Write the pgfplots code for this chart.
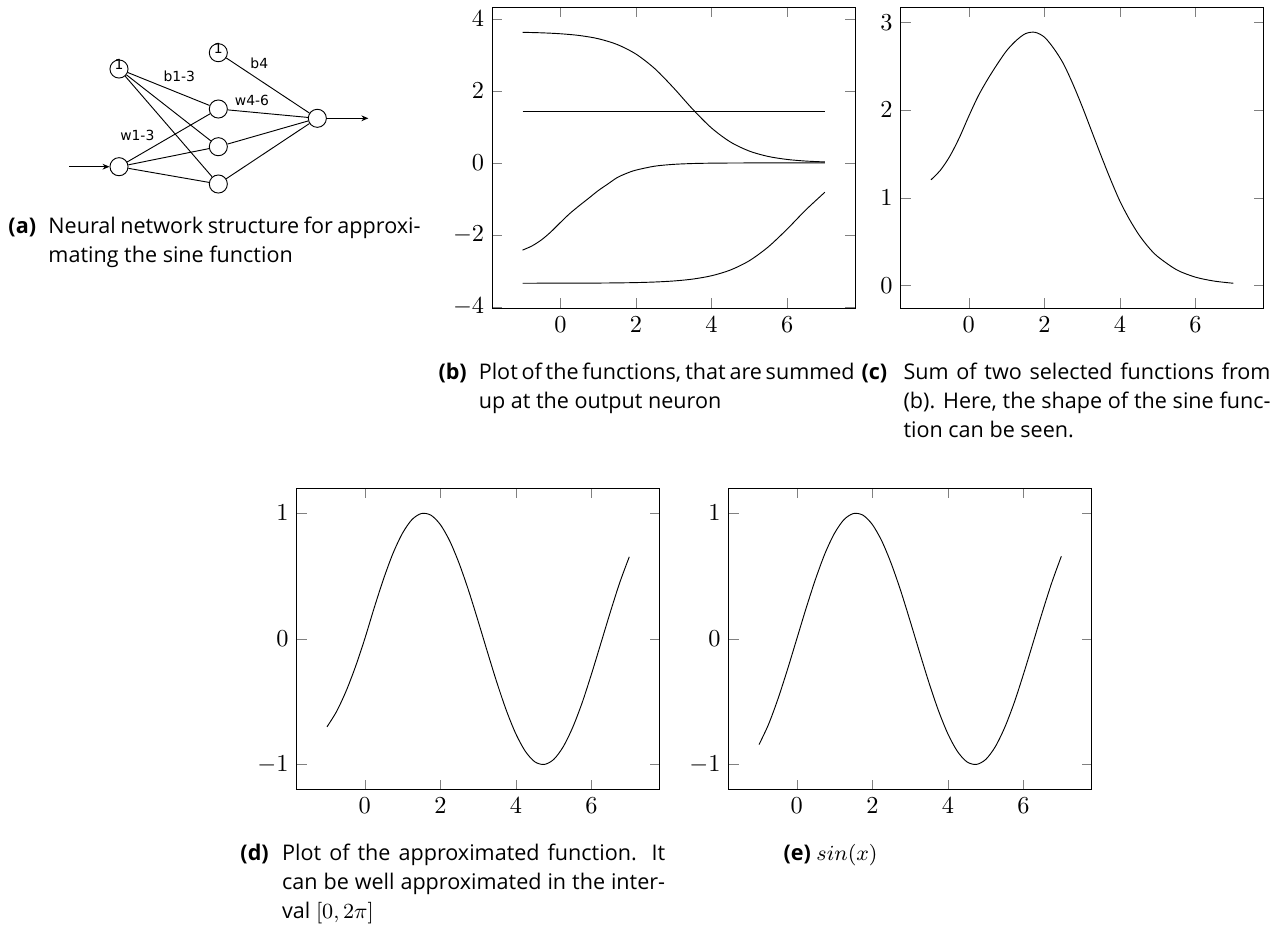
\RequirePackage{fix-cm}
\documentclass[border=0pt]{standalone}
\usepackage{pgfplots}
\pgfplotsset{compat=1.18}
\usepackage{fontspec}
\setmainfont{Open Sans}
\newfontfamily\dejavu{DejaVu Sans}
\usetikzlibrary{arrows.meta}

\pgfplotstableread{
x y
-1 3.625
-0.5 3.611
0 3.585
0.5 3.537
1 3.448
1.5 3.288
2 3.021
2.5 2.615
3 2.078
3.5 1.492
4 0.969
4.5 0.580
5 0.328
5.5 0.179
6 0.096
6.5 0.051
7 0.027
}\fone
\pgfplotstableread{
x y
-1 1.44
7 1.44
}\fbias
\pgfplotstableread{
x y
-1 -2.42
-0.75 -2.304
-0.5 -2.136
-0.25 -1.914
0 -1.655
0.25 -1.404
0.5 -1.187
0.75 -0.98
1 -0.77
1.25 -0.59
1.5 -0.41
1.75 -0.29
2 -0.20
2.5 -0.09
3 -0.04
3.5 -0.017
4 -0.007
4.5 -0.003
5 -0.001
5.5 0
6 0
6.5 0
7 0
}\ftwo
\pgfplotstableread{
x y
-1 -3.340
-0.5 -3.339
0 -3.338
0.5 -3.337
1 -3.335
1.5 -3.330
2 -3.322
2.5 -3.306
3 -3.277
3.5 -3.225
4 -3.132
4.5 -2.973
5 -2.715
5.5 -2.332
6 -1.838
6.5 -1.299
7 -0.813
}\fthree
\pgfplotstableread{
x y
-1 1.205
-0.75 1.315
-0.5 1.475
-0.25 1.685
0 1.93
0.25 2.16
0.5 2.35
0.75 2.52
1 2.675
1.25 2.79
1.5 2.87
1.75 2.885
2 2.83
2.25 2.70
2.5 2.53
2.75 2.30
3 2.04
3.25 1.76
3.5 1.48
3.75 1.21
4 0.96
4.25 0.755
4.5 0.58
4.75 0.44
5 0.33
5.5 0.18
6 0.096
6.5 0.051
7 0.027
}\fsum
\pgfplotstableread{
x y
-1 -0.70
-0.75 -0.58
-0.5 -0.42
-0.25 -0.225
0 0.0
0.25 0.247
0.5 0.479
0.75 0.682
1 0.841
1.25 0.949
1.5 0.997
1.75 0.984
2 0.909
2.25 0.778
2.5 0.598
2.75 0.382
3 0.141
3.25 -0.108
3.5 -0.351
3.75 -0.572
4 -0.757
4.25 -0.895
4.5 -0.978
4.75 -0.999
5 -0.959
5.25 -0.859
5.5 -0.706
5.75 -0.510
6 -0.279
6.25 -0.033
6.5 0.215
6.75 0.450
7 0.653
}\fapprox
\pgfplotstableread{
x y
-1 -0.841
-0.75 -0.682
-0.5 -0.479
-0.25 -0.247
0 0.0
0.25 0.247
0.5 0.479
0.75 0.682
1 0.841
1.25 0.949
1.5 0.997
1.75 0.984
2 0.909
2.25 0.778
2.5 0.598
2.75 0.382
3 0.141
3.25 -0.108
3.5 -0.351
3.75 -0.572
4 -0.757
4.25 -0.895
4.5 -0.978
4.75 -0.999
5 -0.959
5.25 -0.859
5.5 -0.706
5.75 -0.510
6 -0.279
6.25 -0.033
6.5 0.215
6.75 0.450
7 0.657
}\fsin

\pgfplotsset{myax/.style={scale only axis, width=156.5pt, height=129.9pt,
  anchor=south west, xtick={0,2,4,6},
  tick label style={font=\fontsize{10.5}{12}\selectfont}},
  myplot/.style={black, line width=0.4pt, smooth, no markers}}

\newcommand{\capf}{\fontsize{9.3}{11}\selectfont}
\newcommand{\jl}[2]{\makebox[#1][s]{#2}}

\begin{document}
\begin{tikzpicture}
\useasboundingbox (0,0) rectangle (550pt,399.49pt);

\begin{axis}[myax, at={(212.38pt,266.48pt)}, ytick={-4,-2,0,2,4}]
\addplot[myplot] table {\fone};
\addplot[myplot] table {\fbias};
\addplot[myplot] table {\ftwo};
\addplot[myplot] table {\fthree};
\end{axis}

\begin{axis}[myax, at={(388.57pt,266.48pt)}, ytick={0,1,2,3}]
\addplot[myplot] table {\fsum};
\end{axis}

\begin{axis}[myax, at={(128.0pt,58.9pt)}, ytick={-1,0,1}]
\addplot[myplot] table {\fapprox};
\end{axis}

\begin{axis}[myax, at={(314.37pt,58.9pt)}, ytick={-1,0,1}]
\addplot[myplot] table {\fsin};
\end{axis}

\begin{scope}[shift={(0pt,399.49pt)}, x=0.43141pt, y=-0.43141pt]
 \tikzset{neu/.style={circle, draw, line width=0.4pt, minimum size=7.8pt, inner sep=0pt},
          lab/.style={font=\dejavu\fontsize{6}{6}\selectfont, inner sep=0pt}}
 \node[neu] (B1) at (119,69) {};
 \node[neu] (I) at (119,166.7) {};
 \node[neu] (H1) at (218.3,109) {};
 \node[neu] (H2) at (218.3,146.7) {};
 \node[neu] (H3) at (218.3,184) {};
 \node[neu] (B2) at (218.3,52.7) {};
 \node[neu] (O) at (317.3,118.3) {};
 \foreach \h in {H1,H2,H3} {
   \draw[line width=0.4pt] (B1) -- (\h);
   \draw[line width=0.4pt] (I) -- (\h);
   \draw[line width=0.4pt] (\h) -- (O);
 }
 \draw[line width=0.4pt] (B2) -- (O);
 \draw[line width=0.4pt, -{Stealth[length=3pt,width=2.5pt]}] (69.3,166.7) -- (I.west);
 \draw[line width=0.4pt, -{Stealth[length=3pt,width=2.5pt]}] (O.east) -- (368.3,118.3);
 \node[lab] at (119,64) {1};
 \node[lab] at (218.3,48) {1};
 \node[lab] at (179.3,76) {b1-3};
 \node[lab] at (259.3,63.3) {b4};
 \node[lab] at (252,100.7) {w4-6};
 \node[lab] at (137.3,135) {w1-3};

 % captions
 \tikzset{captxt/.style={anchor=base west, inner sep=0pt, font=\capf}}
 \node[captxt] at (8,233) {\textbf{(a)}};
 \node[captxt] at (48,233) {\jl{160.5pt}{Neural network structure for approxi-}};
 \node[captxt] at (48,262) {mating the sine function};

 \node[captxt] at (438,379) {\textbf{(b)}};
 \node[captxt] at (478.3,379) {\jl{158.3pt}{Plot of the functions, that are summed}};
 \node[captxt] at (478.3,408) {up at the output neuron};

 \node[captxt] at (861,379) {\textbf{(c)}};
 \node[captxt] at (903,379) {\jl{158.3pt}{Sum of two selected functions from}};
 \node[captxt] at (903,408) {\jl{158.3pt}{(b). Here, the shape of the sine func-}};
 \node[captxt] at (903,437) {tion can be seen.};

 \node[captxt] at (240,860) {\textbf{(d)}};
 \node[captxt] at (281.7,860) {\jl{165.2pt}{Plot of the approximated function. It}};
 \node[captxt] at (281.7,889) {\jl{165.2pt}{can be well approximated in the inter-}};
 \node[captxt] at (281.7,918) {val $[0,2\pi]$};

 \node[captxt] at (783,860) {\textbf{(e)} $sin(x)$};
\end{scope}
\end{tikzpicture}
\end{document}
